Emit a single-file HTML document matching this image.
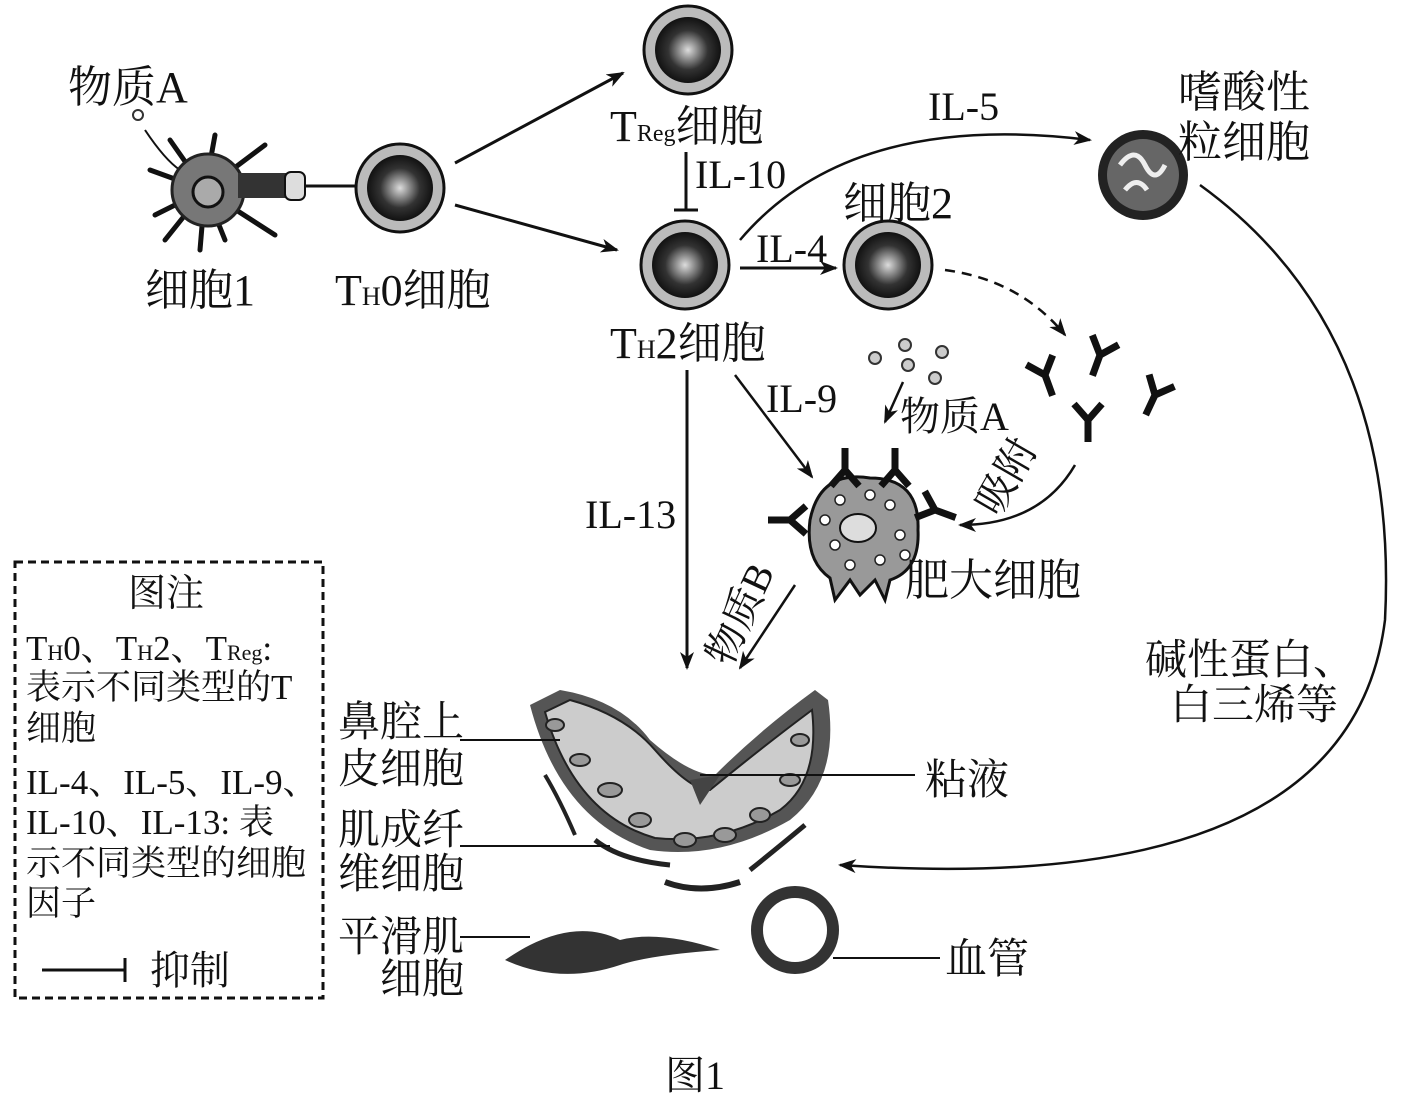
<!DOCTYPE html>
<html><head><meta charset="utf-8"><style>
body{margin:0;background:#fff}
svg{display:block}
text{font-family:"Liberation Serif","Noto Serif CJK SC",serif;fill:#111}
</style></head><body>
<svg width="1420" height="1097" viewBox="0 0 1420 1097" xmlns="http://www.w3.org/2000/svg">
<defs>
<radialGradient id="g" cx="50%" cy="50%" r="50%"><stop offset="0" stop-color="#ddd"/><stop offset="0.6" stop-color="#333"/><stop offset="1" stop-color="#111"/></radialGradient>
<marker id="b" markerWidth="18" markerHeight="14" refX="16" refY="7" orient="auto" markerUnits="userSpaceOnUse"><path d="M0,0 L18,7 L0,14 L5,7 Z" fill="#111"/></marker>
<g id="cell"><circle r="44" fill="#bbb" stroke="#111" stroke-width="3"/><circle r="33" fill="url(#g)"/></g>
<g id="y" stroke="#111" stroke-width="7" fill="none"><path d="M0,0 V22 M0,0 L-14,-16 M0,0 L14,-16"/></g>
</defs>

<text x="68" y="102" font-size="44">物质A</text>
<circle cx="138" cy="115" r="5" fill="#fff" stroke="#333" stroke-width="2"/>
<path d="M145,130 Q165,160 180,170" stroke="#111" stroke-width="2" fill="none"/>
<g stroke="#111" stroke-width="5" stroke-linecap="round">
<path d="M205,190 L150,170 M205,190 L170,140 M205,190 L215,135 M205,190 L265,145 M205,190 L155,215 M205,190 L165,240 M205,190 L200,250 M205,190 L225,240 M205,190 L275,235"/>
</g>
<circle cx="208" cy="190" r="36" fill="#777" stroke="#222" stroke-width="3"/>
<circle cx="208" cy="192" r="15" fill="#aaa" stroke="#111" stroke-width="3"/>
<rect x="238" y="173" width="60" height="25" fill="#333"/>
<rect x="285" y="172" width="20" height="28" rx="6" fill="#ddd" stroke="#111" stroke-width="2"/>
<line x1="305" y1="186" x2="358" y2="186" stroke="#111" stroke-width="3"/>
<use href="#cell" x="400" y="188"/>
<text x="145" y="305" font-size="44">细胞1</text>
<text x="335" y="305" font-size="44">T<tspan font-size="26">H</tspan>0细胞</text>

<line x1="455" y1="163" x2="623" y2="73" stroke="#111" stroke-width="3" marker-end="url(#b)"/>
<line x1="455" y1="205" x2="617" y2="250" stroke="#111" stroke-width="3" marker-end="url(#b)"/>
<use href="#cell" x="688" y="50"/>
<text x="610" y="141" font-size="44">T<tspan font-size="24">Reg</tspan>细胞</text>
<line x1="686" y1="152" x2="686" y2="210" stroke="#111" stroke-width="3"/>
<line x1="674" y1="210" x2="698" y2="210" stroke="#111" stroke-width="3"/>
<text x="695" y="188" font-size="40">IL-10</text>
<use href="#cell" x="685" y="265"/>
<text x="610" y="358" font-size="44">T<tspan font-size="26">H</tspan>2细胞</text>

<path d="M740,240 Q850,110 1090,140" stroke="#111" stroke-width="2.5" fill="none" marker-end="url(#b)"/>
<text x="928" y="120" font-size="40">IL-5</text>
<circle cx="1143" cy="175" r="45" fill="#222"/>
<circle cx="1143" cy="175" r="36" fill="#666"/>
<path d="M1120,165 q15,-20 25,0 q10,20 20,0 M1125,190 q12,-15 22,0" stroke="#eee" stroke-width="5" fill="none"/>
<text x="1178" y="107" font-size="44">嗜酸性</text>
<text x="1178" y="157" font-size="44">粒细胞</text>

<line x1="740" y1="268" x2="836" y2="268" stroke="#111" stroke-width="3" marker-end="url(#b)"/>
<text x="756" y="262" font-size="40">IL-4</text>
<use href="#cell" x="888" y="265"/>
<text x="843" y="218" font-size="44">细胞2</text>
<path d="M945,270 Q1020,280 1065,335" stroke="#111" stroke-width="2.5" stroke-dasharray="10,7" fill="none" marker-end="url(#b)"/>

<use href="#y" transform="translate(1045,375) rotate(-20)"/>
<use href="#y" transform="translate(1100,355) rotate(20)"/>
<use href="#y" transform="translate(1088,420)"/>
<use href="#y" transform="translate(1155,395) rotate(25)"/>
<g fill="#ccc" stroke="#333" stroke-width="2">
<circle cx="875" cy="358" r="6"/><circle cx="905" cy="345" r="6"/><circle cx="942" cy="352" r="6"/><circle cx="908" cy="365" r="6"/><circle cx="935" cy="378" r="6"/>
</g>
<line x1="903" y1="382" x2="885" y2="422" stroke="#111" stroke-width="2.5" marker-end="url(#b)"/>
<text x="900" y="430" font-size="40">物质A</text>
<text x="766" y="412" font-size="40">IL-9</text>
<line x1="735" y1="375" x2="812" y2="477" stroke="#111" stroke-width="2.5" marker-end="url(#b)"/>

<path d="M810,520 Q820,470 870,478 Q920,478 918,530 Q920,570 890,580 L885,600 L875,580 L860,595 L850,580 L835,600 L830,578 Q805,560 810,520Z" fill="#999" stroke="#111" stroke-width="3"/>
<ellipse cx="858" cy="528" rx="18" ry="14" fill="#ddd" stroke="#111" stroke-width="2"/>
<g fill="#fff" stroke="#222" stroke-width="1.5">
<circle cx="825" cy="520" r="5"/><circle cx="835" cy="545" r="5"/><circle cx="890" cy="505" r="5"/><circle cx="900" cy="535" r="5"/><circle cx="880" cy="560" r="5"/><circle cx="850" cy="565" r="5"/><circle cx="840" cy="500" r="5"/><circle cx="870" cy="495" r="5"/><circle cx="905" cy="555" r="5"/>
</g>
<use href="#y" transform="translate(845,470) rotate(180)"/>
<use href="#y" transform="translate(895,470) rotate(180)"/>
<use href="#y" transform="translate(790,520) rotate(90)"/>
<use href="#y" transform="translate(935,510) rotate(-70)"/>
<text font-size="40" transform="translate(998,518) rotate(-60)">吸附</text>
<path d="M1075,465 Q1040,525 960,525" stroke="#111" stroke-width="2.5" fill="none" marker-end="url(#b)"/>
<text x="905" y="595" font-size="44">肥大细胞</text>

<line x1="687" y1="370" x2="687" y2="668" stroke="#111" stroke-width="3" marker-end="url(#b)"/>
<text x="585" y="528" font-size="40">IL-13</text>
<text font-size="40" transform="translate(730,668) rotate(-65)">物质B</text>
<line x1="795" y1="585" x2="740" y2="668" stroke="#111" stroke-width="2.5" marker-end="url(#b)"/>

<path d="M530,705 L560,690 Q620,700 650,740 Q690,775 715,775 Q760,730 815,690 L828,700 Q840,780 790,820 Q720,860 650,850 Q560,820 530,705Z" fill="#555"/>
<path d="M545,712 L570,700 Q625,715 655,750 Q690,790 710,790 Q765,745 812,710 Q820,780 780,810 Q720,845 655,838 Q575,815 545,712Z" fill="#ccc" stroke="#222" stroke-width="2"/>
<g fill="#999" stroke="#222" stroke-width="2">
<ellipse cx="580" cy="760" rx="10" ry="6"/><ellipse cx="610" cy="790" rx="12" ry="7"/><ellipse cx="640" cy="820" rx="11" ry="7"/><ellipse cx="685" cy="840" rx="11" ry="7"/><ellipse cx="725" cy="835" rx="11" ry="7"/><ellipse cx="760" cy="815" rx="10" ry="7"/><ellipse cx="790" cy="780" rx="10" ry="6"/><ellipse cx="800" cy="740" rx="9" ry="6"/><ellipse cx="555" cy="725" rx="9" ry="6"/>
</g>
<path d="M690,780 L720,775 L700,805Z" fill="#444"/>
<path d="M545,775 Q560,800 575,835" stroke="#222" stroke-width="4" fill="none"/>
<path d="M595,840 Q620,860 670,865" stroke="#222" stroke-width="5" fill="none"/>
<path d="M665,882 Q700,895 740,882" stroke="#222" stroke-width="6" fill="none"/>
<path d="M750,870 Q775,850 805,825" stroke="#222" stroke-width="5" fill="none"/>
<path d="M530,945 Q580,920 620,940 Q660,930 720,950 Q650,955 620,965 Q560,985 505,960 Q520,950 530,945Z" fill="#333"/>
<circle cx="795" cy="930" r="38" fill="none" stroke="#333" stroke-width="12"/>

<g font-size="42">
<text x="338" y="736">鼻腔上</text><text x="338" y="783">皮细胞</text>
<text x="338" y="844">肌成纤</text><text x="338" y="888">维细胞</text>
<text x="338" y="951">平滑肌</text><text x="380" y="993">细胞</text>
<text x="925" y="794">粘液</text>
<text x="945" y="973">血管</text>
<text x="1145" y="674">碱性蛋白、</text>
<text x="1170" y="719">白三烯等</text>
</g>
<g stroke="#111" stroke-width="2">
<line x1="460" y1="740" x2="560" y2="740"/>
<line x1="460" y1="846" x2="610" y2="846"/>
<line x1="460" y1="937" x2="530" y2="937"/>
<line x1="700" y1="775" x2="915" y2="775"/>
<line x1="833" y1="958" x2="940" y2="958"/>
</g>
<path d="M1200,185 Q1400,330 1385,620 Q1350,900 840,865" stroke="#111" stroke-width="2.5" fill="none" marker-end="url(#b)"/>

<rect x="15" y="562" width="308" height="436" fill="none" stroke="#111" stroke-width="3" stroke-dasharray="8,5"/>
<text x="128" y="606" font-size="38">图注</text>
<g font-size="35">
<text x="26" y="660">T<tspan font-size="22">H</tspan>0、T<tspan font-size="22">H</tspan>2、T<tspan font-size="22">Reg</tspan>:</text>
<text x="26" y="699">表示不同类型的T</text>
<text x="26" y="740">细胞</text>
<text x="26" y="794">IL-4、IL-5、IL-9、</text>
<text x="26" y="834">IL-10、IL-13: 表</text>
<text x="26" y="875">示不同类型的细胞</text>
<text x="26" y="915">因子</text>
<text x="150" y="984" font-size="40">抑制</text>
</g>
<line x1="42" y1="970" x2="125" y2="970" stroke="#111" stroke-width="3"/>
<line x1="125" y1="958" x2="125" y2="982" stroke="#111" stroke-width="3"/>

<text x="665" y="1089" font-size="40">图1</text>
</svg>
</body></html>
